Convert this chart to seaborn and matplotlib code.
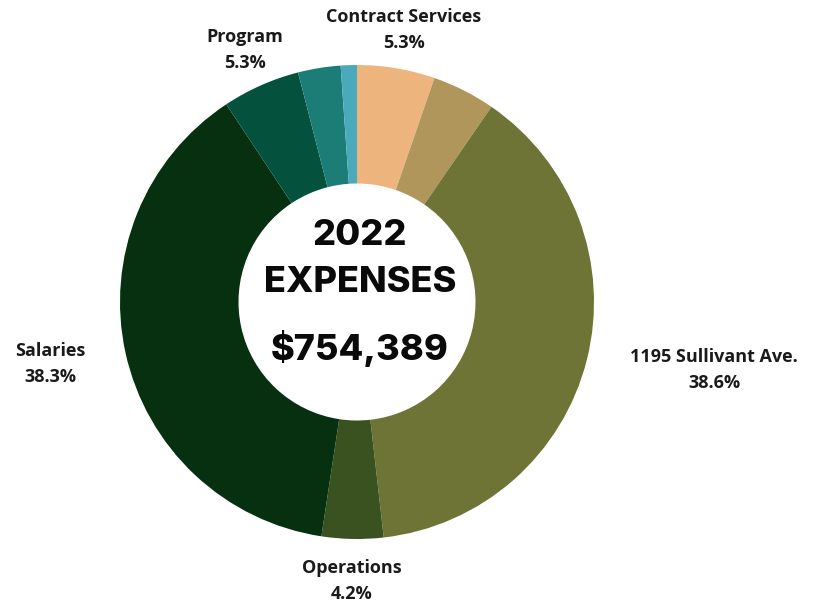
import matplotlib
matplotlib.use("Agg")
import matplotlib.pyplot as plt
import seaborn as sns

categories = ["Contract Services", "Other A", "1195 Sullivant Ave.", "Operations",
              "Salaries", "Program", "Other B", "Other C"]
values = [5.3, 4.3, 38.6, 4.2, 38.3, 5.3, 2.9, 1.1]
slice_colors = ["#EDB47E", "#B0965A", "#6E7436", "#3A5220",
                "#06300F", "#04523D", "#1C7D77", "#4BA9BC"]
shown_labels = ["Contract Services", "1195 Sullivant Ave.", "Operations", "Salaries", "Program"]
center_lines = ["2022", "EXPENSES", "$754,389"]

sns.set_theme(style="white")
plt.rcParams['font.family'] = ['Open Sans', 'DejaVu Sans']

W, H = 814, 605
cx, cy, R = 357, 302, 237
fig = plt.figure(figsize=(W / 100, H / 100), dpi=100)
ax = fig.add_axes([0, 0, 1, 1])

pal = sns.color_palette(slice_colors)
ax.pie(values, colors=pal, startangle=90, counterclock=False, radius=1.0,
       wedgeprops=dict(width=0.5, edgecolor="none"))
ax.set_xlim(-cx / R, (W - cx) / R)
ax.set_ylim(-(H - cy) / R, cy / R)
ax.set_aspect("equal")
ax.axis("off")


def px(x, y):
    return (x - cx) / R, (cy - y) / R


label_pos = {
    "Contract Services": (404, 17),
    "Program": (245, 37),
    "Salaries": (50, 351),
    "1195 Sullivant Ave.": (714, 357),
    "Operations": (352, 568),
}
for name in shown_labels:
    v = values[categories.index(name)]
    x, y = label_pos[name]
    ax.text(*px(x, y), name, ha="center", va="center", fontsize=13,
            fontweight="bold", color="#1a1a1a")
    ax.text(*px(x, y + 26), f"{v:.1f}%", ha="center", va="center", fontsize=13,
            fontweight="bold", color="#1a1a1a")

center_y = [236, 283, 349]
for txt, y in zip(center_lines, center_y):
    ax.text(*px(360, y), txt, ha="center", va="center", fontsize=26,
            fontweight="heavy", family=["Inter", "DejaVu Sans"], color="#0a0a0a")

fig.savefig("out.png", dpi=100)
